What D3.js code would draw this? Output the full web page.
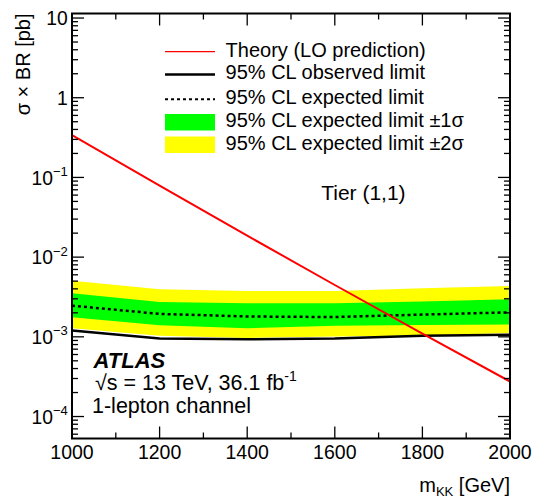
<!DOCTYPE html>
<html>
<head>
<meta charset="utf-8">
<script src="https://cdn.jsdelivr.net/npm/d3@7"></script>
<style>
  html, body { margin: 0; padding: 0; background: #fff; }
  svg { display: block; font-family: "Liberation Sans", Arial, Helvetica, sans-serif; }
</style>
</head>
<body>
<svg id="chart" width="534" height="499"></svg>
<script>
// ---- data ----
const masses      = [1000, 1200, 1400, 1600, 1800, 2000];
const observed    = [1.20e-3, 0.95e-3, 0.93e-3, 0.95e-3, 1.03e-3, 1.06e-3];
const expected    = [2.46e-3, 1.94e-3, 1.80e-3, 1.77e-3, 1.90e-3, 2.03e-3];
const plus1sigma  = [3.53e-3, 2.74e-3, 2.64e-3, 2.64e-3, 2.78e-3, 2.97e-3];
const minus1sigma = [1.76e-3, 1.40e-3, 1.28e-3, 1.38e-3, 1.41e-3, 1.43e-3];
const plus2sigma  = [5.07e-3, 3.96e-3, 3.77e-3, 3.77e-3, 4.07e-3, 4.35e-3];
const minus2sigma = [1.28e-3, 1.03e-3, 0.97e-3, 1.01e-3, 1.04e-3, 1.12e-3];
const theoryMass  = [1000, 1200, 1400, 1600, 1800, 2000];
const theory      = [0.34, 0.079, 0.0186, 4.47e-3, 1.10e-3, 2.75e-4];
const xTicks      = [1000, 1200, 1400, 1600, 1800, 2000];
const yTickExps   = [-4, -3, -2, -1, 0, 1];
const legendLabels = [
  "Theory (LO prediction)",
  "95% CL observed limit",
  "95% CL expected limit",
  "95% CL expected limit \u00B11\u03C3",
  "95% CL expected limit \u00B12\u03C3"
];

// ---- layout ----
const L = 72, R = 510, T = 13.5, B = 438.5;
const svg = d3.select("#chart");
const x = d3.scaleLinear().domain([1000, 2000]).range([L, R]);
const y = d3.scaleLog().domain([5.3e-5, 11.4]).range([B, T]);

svg.append("defs").append("clipPath").attr("id", "clip")
  .append("rect").attr("x", L).attr("y", T).attr("width", R - L).attr("height", B - T);

const plot = svg.append("g").attr("clip-path", "url(#clip)");

const idx = d3.range(masses.length);
const band = (lo, hi) => d3.area()
  .x(i => x(masses[i])).y0(i => y(lo[i])).y1(i => y(hi[i]))(idx);

plot.append("path").attr("d", band(minus2sigma, plus2sigma)).attr("fill", "#ffff00");
plot.append("path").attr("d", band(minus1sigma, plus1sigma)).attr("fill", "#00ff00");

const lineOf = (xs, ys) => d3.line().x(i => x(xs[i])).y(i => y(ys[i]))(d3.range(xs.length));

plot.append("path").attr("d", lineOf(masses, expected))
  .attr("fill", "none").attr("stroke", "#000").attr("stroke-width", 2.5)
  .attr("stroke-dasharray", "3,3");
plot.append("path").attr("d", lineOf(masses, observed))
  .attr("fill", "none").attr("stroke", "#000").attr("stroke-width", 2.5);
plot.append("path").attr("d", d3.line().curve(d3.curveMonotoneX)
    .x(i => x(theoryMass[i])).y(i => y(theory[i]))(d3.range(theoryMass.length)))
  .attr("fill", "none").attr("stroke", "#ff0000").attr("stroke-width", 2);

// ---- axes / frame ----
const ax = svg.append("g").attr("stroke", "#000").attr("stroke-width", 1.3);
d3.range(1000, 2001, 100).forEach(v => {
  const len = (v % 200 === 0) ? 12 : 6;
  ax.append("line").attr("x1", x(v)).attr("x2", x(v)).attr("y1", B).attr("y2", B - len);
  ax.append("line").attr("x1", x(v)).attr("x2", x(v)).attr("y1", T).attr("y2", T + len);
});
const yMin = y.domain()[0], yMax = y.domain()[1];
for (let e = -5; e <= 1; e++) {
  for (let m = 1; m <= 9; m++) {
    const v = m * Math.pow(10, e);
    if (v < yMin || v > yMax) continue;
    const len = (m === 1) ? 12 : 6;
    ax.append("line").attr("x1", L).attr("x2", L + len).attr("y1", y(v)).attr("y2", y(v));
    ax.append("line").attr("x1", R).attr("x2", R - len).attr("y1", y(v)).attr("y2", y(v));
  }
}
svg.append("rect").attr("x", L).attr("y", T).attr("width", R - L).attr("height", B - T)
  .attr("fill", "none").attr("stroke", "#000").attr("stroke-width", 2);

// x tick labels
svg.append("g").selectAll("text").data(xTicks).join("text")
  .attr("x", d => x(d)).attr("y", 458.5).attr("text-anchor", "middle")
  .attr("font-size", 19.5).text(d => d);

// y tick labels
yTickExps.forEach(e => {
  const t = svg.append("text").attr("x", 67.8).attr("y", y(Math.pow(10, e)) + 7.3)
    .attr("text-anchor", "end").attr("font-size", 19.3);
  if (e === 0) t.text("1");
  else if (e === 1) t.text("10");
  else {
    t.append("tspan").text("10");
    t.append("tspan").attr("font-size", 13).attr("dy", -8.7).text("\u2212" + (-e));
  }
});

// axis titles
const xt = svg.append("text").attr("x", R).attr("y", 491.5).attr("text-anchor", "end").attr("font-size", 20);
xt.append("tspan").text("m");
xt.append("tspan").attr("font-size", 13).attr("dy", 4).text("KK");
xt.append("tspan").attr("dy", -4).text(" [GeV]");

svg.append("text").attr("transform", "translate(30,13.5) rotate(-90)")
  .attr("text-anchor", "end").attr("font-size", 20).text("\u03C3 \u00D7 BR [pb]");

// legend
const rowsY = [51.7, 74.5, 99.3, 122.5, 145];
const lg = svg.append("g");
lg.append("line").attr("x1", 165).attr("x2", 215).attr("y1", rowsY[0]).attr("y2", rowsY[0])
  .attr("stroke", "#ff0000").attr("stroke-width", 1.2);
lg.append("line").attr("x1", 165).attr("x2", 215).attr("y1", rowsY[1]).attr("y2", rowsY[1])
  .attr("stroke", "#000").attr("stroke-width", 2.5);
lg.append("line").attr("x1", 165).attr("x2", 215).attr("y1", rowsY[2]).attr("y2", rowsY[2])
  .attr("stroke", "#000").attr("stroke-width", 2).attr("stroke-dasharray", "3,3");
lg.append("rect").attr("x", 165).attr("y", rowsY[3] - 8.5).attr("width", 50).attr("height", 16.5).attr("fill", "#00ff00");
lg.append("rect").attr("x", 165).attr("y", rowsY[4] - 8.5).attr("width", 50).attr("height", 16.5).attr("fill", "#ffff00");
lg.selectAll("text").data(legendLabels).join("text")
  .attr("x", 225.6).attr("y", (d, i) => rowsY[i] + 4.8).attr("font-size", 20).text(d => d);

// annotations
svg.append("text").attr("x", 321.2).attr("y", 200).attr("font-size", 21).text("Tier (1,1)");
svg.append("text").attr("x", 93.5).attr("y", 367.5).attr("font-size", 22)
  .attr("font-weight", "bold").attr("font-style", "italic").text("ATLAS");
const s2 = svg.append("text").attr("x", 95).attr("y", 390).attr("font-size", 21.5);
s2.append("tspan").text("\u221As = 13 TeV, 36.1 fb");
s2.append("tspan").attr("font-size", 14).attr("dy", -9).text("-1");
svg.append("text").attr("x", 92).attr("y", 412.5).attr("font-size", 21.5).text("1-lepton channel");
</script>
</body>
</html>
